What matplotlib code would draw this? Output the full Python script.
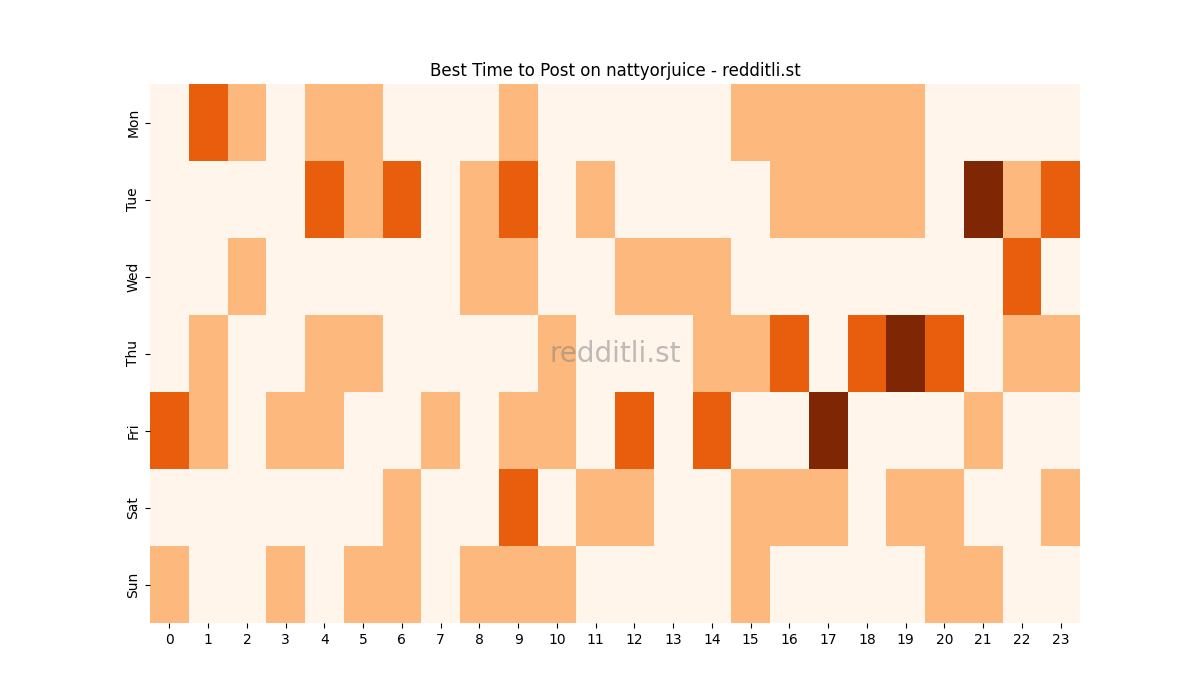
import matplotlib
matplotlib.use('Agg')
import matplotlib.pyplot as plt
import seaborn as sns
import pandas as pd

days = ['Mon', 'Tue', 'Wed', 'Thu', 'Fri', 'Sat', 'Sun']
hours = list(range(24))

# post counts per hour (0..3)
mon = [0, 2, 1, 0, 1, 1, 0, 0, 0, 1, 0, 0, 0, 0, 0, 1, 1, 1, 1, 1, 0, 0, 0, 0]
tue = [0, 0, 0, 0, 2, 1, 2, 0, 1, 2, 0, 1, 0, 0, 0, 0, 1, 1, 1, 1, 0, 3, 1, 2]
wed = [0, 0, 1, 0, 0, 0, 0, 0, 1, 1, 0, 0, 1, 1, 1, 0, 0, 0, 0, 0, 0, 0, 2, 0]
thu = [0, 1, 0, 0, 1, 1, 0, 0, 0, 0, 1, 0, 0, 0, 1, 1, 2, 0, 2, 3, 2, 0, 1, 1]
fri = [2, 1, 0, 1, 1, 0, 0, 1, 0, 1, 1, 0, 2, 0, 2, 0, 0, 3, 0, 0, 0, 1, 0, 0]
sat = [0, 0, 0, 0, 0, 0, 1, 0, 0, 2, 0, 1, 1, 0, 0, 1, 1, 1, 0, 1, 1, 0, 0, 1]
sun = [1, 0, 0, 1, 0, 1, 1, 0, 1, 1, 1, 0, 0, 0, 0, 1, 0, 0, 0, 0, 1, 1, 0, 0]

df = pd.DataFrame([mon, tue, wed, thu, fri, sat, sun], index=days, columns=hours)

fig, ax = plt.subplots(figsize=(12, 7), dpi=100)
sns.heatmap(df, cmap='Oranges', cbar=False, ax=ax)
ax.set_title('Best Time to Post on nattyorjuice - redditli.st')
ax.set_xlabel('')
ax.set_ylabel('')
plt.setp(ax.get_yticklabels(), rotation=90, va='center')
plt.setp(ax.get_xticklabels(), rotation=0)
ax.text(0.5, 0.5, 'redditli.st', transform=ax.transAxes, ha='center', va='center',
        fontsize=20, color='gray', alpha=0.5)
plt.savefig('out.png')
